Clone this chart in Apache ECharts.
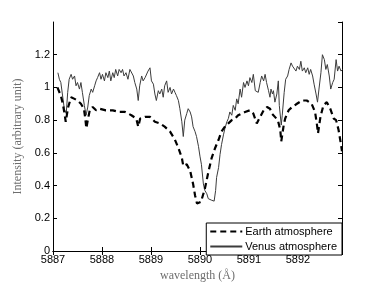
<!DOCTYPE html>
<html><head><meta charset="utf-8">
<script src="https://cdn.jsdelivr.net/npm/echarts@6/dist/echarts.min.js"></script>
<style>html,body{margin:0;padding:0;background:#fff}#c{width:382px;height:287px}</style>
</head><body><div id="c"></div>
<script>
const earthWavelength = [5887.09,5887.16,5887.20,5887.23,5887.26,5887.28,5887.31,5887.37,5887.44,5887.50,5887.57,5887.63,5887.66,5887.68,5887.71,5887.75,5887.81,5887.88,5887.95,5888.08,5888.22,5888.35,5888.47,5888.60,5888.70,5888.74,5888.78,5888.88,5888.98,5889.08,5889.18,5889.28,5889.39,5889.49,5889.56,5889.63,5889.66,5889.73,5889.80,5889.86,5889.90,5889.94,5889.97,5890.02,5890.10,5890.17,5890.24,5890.31,5890.38,5890.44,5890.51,5890.58,5890.65,5890.72,5890.78,5890.85,5890.92,5891.02,5891.09,5891.16,5891.19,5891.23,5891.30,5891.37,5891.43,5891.47,5891.53,5891.59,5891.64,5891.66,5891.71,5891.74,5891.81,5891.88,5891.98,5892.08,5892.18,5892.28,5892.35,5892.39,5892.41,5892.46,5892.52,5892.59,5892.66,5892.73,5892.78,5892.83,5892.88,5892.90];
const earthIntensity = [1.00,0.95,0.90,0.85,0.79,0.80,0.88,0.94,0.93,0.92,0.90,0.87,0.81,0.75,0.80,0.86,0.88,0.86,0.87,0.86,0.86,0.85,0.85,0.83,0.81,0.76,0.81,0.82,0.82,0.79,0.78,0.76,0.73,0.68,0.63,0.57,0.52,0.53,0.49,0.41,0.34,0.29,0.28,0.30,0.38,0.48,0.57,0.63,0.68,0.73,0.76,0.78,0.80,0.81,0.83,0.84,0.85,0.86,0.84,0.78,0.77,0.82,0.86,0.88,0.87,0.84,0.82,0.80,0.74,0.67,0.77,0.81,0.86,0.88,0.90,0.92,0.92,0.90,0.85,0.77,0.72,0.82,0.89,0.91,0.87,0.81,0.80,0.74,0.65,0.61];

const venusWavelength = [5887.10,5887.13,5887.16,5887.20,5887.23,5887.27,5887.30,5887.33,5887.37,5887.40,5887.44,5887.47,5887.50,5887.54,5887.57,5887.60,5887.64,5887.675,5887.71,5887.74,5887.78,5887.81,5887.85,5887.88,5887.91,5887.95,5887.98,5888.01,5888.05,5888.08,5888.12,5888.15,5888.18,5888.22,5888.25,5888.28,5888.32,5888.35,5888.39,5888.42,5888.45,5888.49,5888.53,5888.57,5888.60,5888.64,5888.67,5888.71,5888.74,5888.77,5888.81,5888.84,5888.88,5888.91,5888.94,5888.98,5889.01,5889.05,5889.08,5889.11,5889.15,5889.18,5889.22,5889.25,5889.28,5889.32,5889.35,5889.39,5889.42,5889.46,5889.49,5889.52,5889.56,5889.59,5889.63,5889.66,5889.69,5889.73,5889.76,5889.80,5889.83,5889.86,5889.90,5889.93,5889.97,5890.00,5890.03,5890.07,5890.10,5890.14,5890.17,5890.24,5890.29,5890.32,5890.34,5890.38,5890.41,5890.44,5890.48,5890.51,5890.55,5890.58,5890.61,5890.65,5890.68,5890.72,5890.75,5890.78,5890.82,5890.85,5890.89,5890.92,5890.96,5890.99,5891.02,5891.06,5891.09,5891.13,5891.16,5891.19,5891.23,5891.26,5891.30,5891.33,5891.36,5891.40,5891.43,5891.45,5891.48,5891.50,5891.53,5891.57,5891.60,5891.62,5891.66,5891.68,5891.72,5891.75,5891.79,5891.82,5891.86,5891.89,5891.92,5891.96,5891.99,5892.03,5892.06,5892.09,5892.13,5892.16,5892.20,5892.23,5892.26,5892.30,5892.33,5892.37,5892.40,5892.43,5892.47,5892.50,5892.54,5892.57,5892.60,5892.64,5892.67,5892.71,5892.74,5892.78,5892.81,5892.84,5892.88,5892.91];
const venusIntensity = [1.09,1.05,1.03,0.94,0.87,0.84,0.97,1.05,1.08,1.05,1.07,1.01,1.03,0.99,1.03,0.97,0.89,0.83,0.88,0.95,0.99,0.97,1.01,1.04,1.06,1.09,1.05,1.08,1.04,1.09,1.06,1.10,1.04,1.09,1.06,1.11,1.07,1.11,1.09,1.11,1.07,1.09,1.05,1.11,1.12,1.07,1.03,0.99,0.92,1.01,1.07,1.04,1.06,1.05,1.10,1.12,1.04,1.02,0.96,0.92,0.98,0.96,0.99,0.94,1.01,1.04,0.97,1.00,0.96,0.99,0.97,0.95,0.92,0.87,0.79,0.70,0.80,0.84,0.87,0.85,0.82,0.76,0.73,0.70,0.64,0.58,0.53,0.41,0.37,0.35,0.32,0.31,0.305,0.37,0.45,0.51,0.59,0.65,0.71,0.75,0.79,0.81,0.85,0.83,0.89,0.86,0.93,0.90,0.99,0.94,1.03,1.00,1.04,1.01,1.06,1.03,1.08,0.98,0.99,0.97,1.03,1.07,1.04,1.08,1.03,0.98,0.94,0.99,0.96,0.98,0.91,0.96,1.04,0.89,0.77,0.83,0.97,1.05,1.07,1.11,1.15,1.13,1.14,1.10,1.13,1.11,1.16,1.10,1.12,1.09,1.12,1.08,1.11,1.07,1.02,0.96,0.91,0.99,1.09,1.20,1.17,1.11,1.14,1.07,0.99,1.03,1.05,1.17,1.10,1.13,1.10,1.11];

const xTickMin = 5887, xMax = 5892.9, yMin = 0, yMax = 1.4;

const chart = echarts.init(document.getElementById('c'), null, {renderer:'canvas'});
const sans = 'Liberation Sans';
const serif = 'Liberation Serif';
const lineAx = {show:true, lineStyle:{color:'#000', width:1}};
const tickIn = {show:true, inside:true, length:4, lineStyle:{color:'#000', width:1}};
chart.setOption({
  animation:false,
  backgroundColor:'#fff',
  grid:{left:53, right:40, top:22, bottom:32, containLabel:false},
  xAxis:[{
    type:'value', min:xTickMin, max:xMax, interval:1, position:'bottom',
    axisLine:lineAx, axisTick:tickIn, splitLine:{show:false},
    axisLabel:{fontFamily:sans, fontSize:11, color:'#000', margin:3,
      formatter:v => Number.isInteger(Math.round(v*1000)/1000) ? String(Math.round(v)) : ''},
    name:'wavelength (Å)', nameLocation:'middle', nameGap:19,
    nameTextStyle:{fontFamily:serif, fontSize:12, color:'#6e6e6e'}
  },{
    type:'value', min:xTickMin, max:xMax, interval:1, position:'top',
    axisLine:lineAx, axisTick:tickIn, splitLine:{show:false}, axisLabel:{show:false}
  }],
  yAxis:[{
    type:'value', min:yMin, max:yMax, interval:0.2, position:'left',
    axisLine:lineAx, axisTick:tickIn, splitLine:{show:false},
    axisLabel:{fontFamily:sans, fontSize:11, color:'#000', margin:3, showMaxLabel:false,
      formatter:v => v > 1.3 ? '' : String(Math.round(v*10)/10)},
    name:'Intensity (arbitrary unit)', nameLocation:'middle', nameGap:22, nameRotate:90,
    nameTextStyle:{fontFamily:serif, fontSize:12, color:'#6e6e6e'}
  },{
    type:'value', min:yMin, max:yMax, interval:0.2, position:'right',
    axisLine:lineAx, axisTick:tickIn, splitLine:{show:false}, axisLabel:{show:false}
  }],
  legend:{
    orient:'vertical', right:40, bottom:32, backgroundColor:'#fff',
    borderColor:'#000', borderWidth:1, borderRadius:0, padding:[3,5,3,3], itemGap:4,
    itemWidth:32, itemHeight:11,
    itemStyle:{opacity:0},
    textStyle:{fontFamily:sans, fontSize:11, color:'#000', padding:[0,0,0,-2]},
    data:['Earth atmosphere','Venus atmosphere']
  },
  series:[{
    name:'Earth atmosphere', type:'line', xAxisIndex:0, yAxisIndex:0,
    data:earthWavelength.map((w,i)=>[w, earthIntensity[i]]),
    symbol:'none', showSymbol:false, smooth:false, clip:true,
    lineStyle:{color:'#000', width:2.2, type:[6,4]}, itemStyle:{color:'#000'}, z:3
  },{
    name:'Venus atmosphere', type:'line', xAxisIndex:0, yAxisIndex:0,
    data:venusWavelength.map((w,i)=>[w, venusIntensity[i]]),
    symbol:'none', showSymbol:false, smooth:false, clip:true,
    lineStyle:{color:'#3c3c3c', width:1}, itemStyle:{color:'#3c3c3c'}, z:2
  }]
});
</script></body></html>
